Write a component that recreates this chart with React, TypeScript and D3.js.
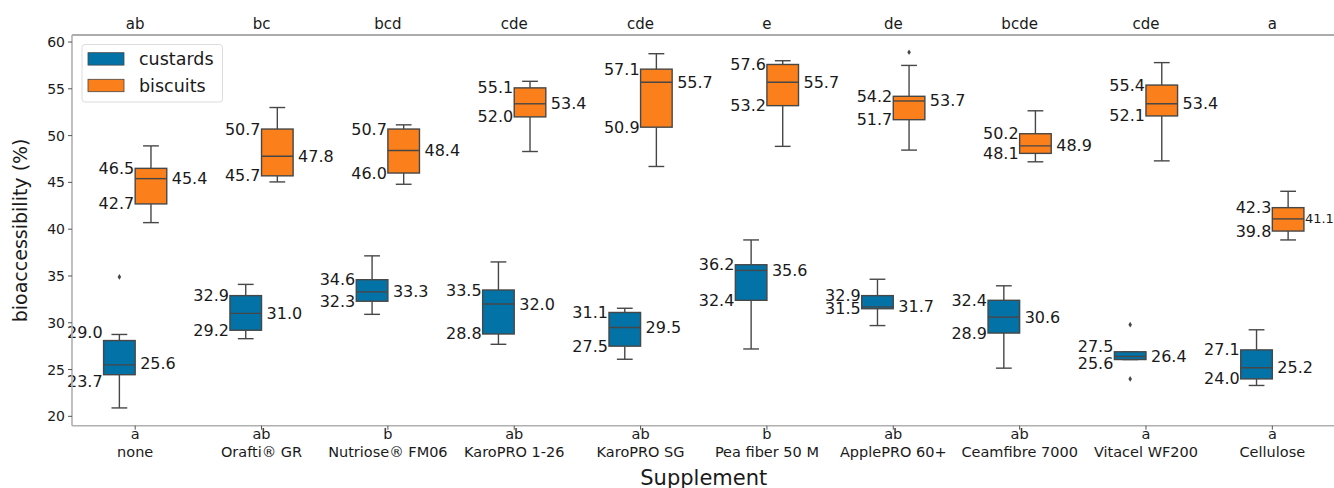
import React from "react";
import * as d3 from "d3";

const categories = [
  "none",
  "Orafti® GR",
  "Nutriose® FM06",
  "KaroPRO 1-26",
  "KaroPRO SG",
  "Pea fiber 50 M",
  "ApplePRO 60+",
  "Ceamfibre 7000",
  "Vitacel WF200",
  "Cellulose",
];

// significance letters: custards under the axis, biscuits on top
const custardsLetters = ["a", "ab", "b", "ab", "ab", "b", "ab", "ab", "a", "a"];
const biscuitsLetters = ["ab", "bc", "bcd", "cde", "cde", "e", "de", "bcde", "cde", "a"];

// [lower whisker, q1, median, q3, upper whisker]
const custardsBoxes = [
  [20.9, 24.45, 25.5, 28.1, 28.75],
  [28.3, 29.2, 31.0, 32.9, 34.1],
  [30.9, 32.3, 33.3, 34.6, 37.15],
  [27.7, 28.8, 32.0, 33.5, 36.5],
  [26.1, 27.5, 29.5, 31.1, 31.55],
  [27.2, 32.4, 35.6, 36.2, 38.85],
  [29.7, 31.5, 31.7, 32.9, 34.65],
  [25.15, 28.9, 30.6, 32.4, 33.95],
  [26.07, 26.07, 26.4, 26.9, 26.9],
  [23.3, 24.0, 25.2, 27.1, 29.25],
];
const biscuitsBoxes = [
  [40.7, 42.7, 45.4, 46.5, 48.9],
  [45.05, 45.7, 47.8, 50.7, 53.0],
  [44.8, 46.0, 48.4, 50.7, 51.15],
  [48.3, 52.0, 53.4, 55.1, 55.8],
  [46.7, 50.9, 55.7, 57.1, 58.75],
  [48.85, 53.2, 55.7, 57.6, 58.0],
  [48.45, 51.7, 53.7, 54.2, 57.5],
  [47.2, 48.1, 48.9, 50.2, 52.65],
  [47.3, 52.1, 53.4, 55.4, 57.8],
  [38.85, 39.8, 41.1, 42.3, 44.05],
];

const custardsFliers = [[34.9], [], [], [], [], [], [], [], [29.8, 24.0], []];
const biscuitsFliers = [[], [], [], [], [], [], [58.9], [], [], []];

// printed numbers: [upper left, right, lower left]
const custardsLabels = [
  ["29.0", "25.6", "23.7"],
  ["32.9", "31.0", "29.2"],
  ["34.6", "33.3", "32.3"],
  ["33.5", "32.0", "28.8"],
  ["31.1", "29.5", "27.5"],
  ["36.2", "35.6", "32.4"],
  ["32.9", "31.7", "31.5"],
  ["32.4", "30.6", "28.9"],
  ["27.5", "26.4", "25.6"],
  ["27.1", "25.2", "24.0"],
];
const biscuitsLabels = [
  ["46.5", "45.4", "42.7"],
  ["50.7", "47.8", "45.7"],
  ["50.7", "48.4", "46.0"],
  ["55.1", "53.4", "52.0"],
  ["57.1", "55.7", "50.9"],
  ["57.6", "55.7", "53.2"],
  ["54.2", "53.7", "51.7"],
  ["50.2", "48.9", "48.1"],
  ["55.4", "53.4", "52.1"],
  ["42.3", "41.1", "39.8"],
];

const yTicks = [20, 25, 30, 35, 40, 45, 50, 55, 60];

const series = [
  { name: "custards", color: "#0272a7", boxes: custardsBoxes, fliers: custardsFliers, labels: custardsLabels },
  { name: "biscuits", color: "#fb7f1a", boxes: biscuitsBoxes, fliers: biscuitsFliers, labels: biscuitsLabels },
];

const W = 1334;
const H = 488;
const font = "DejaVu Sans, sans-serif";
const edge = "#474747";

// rough DejaVu Sans width of a number string
const textWidth = (s: string, size: number) =>
  s.split("").reduce((w, c) => w + (c === "." ? 0.318 : 0.636), 0) * size;

const App = () => {
  const plot = { left: 72, right: 1335.5, top: 35, bottom: 425.7 };

  const x = d3.scaleBand().domain(categories).range([plot.left, plot.right]);
  const bw = x.bandwidth();
  const hue = d3
    .scaleBand()
    .domain(series.map((s) => s.name))
    .range([bw * 0.25, bw * 0.75]);
  const boxW = hue.bandwidth();
  const y = d3.scaleLinear().domain([19.0, 60.75]).range([plot.bottom, plot.top]);
  const center = (c: string) => (x(c) as number) + bw / 2;

  return (
    <svg
      width={W}
      height={H}
      style={{ position: "absolute", left: 0, top: 0, background: "#fff" }}
      fontFamily={font}
    >
      {/* boxes */}
      {series.map((s) =>
        categories.map((c, i) => {
          const [lo, q1, med, q3, hi] = s.boxes[i];
          const bx = (x(c) as number) + (hue(s.name) as number);
          const mid = bx + boxW / 2;
          const [labTop, labMid, labBot] = s.labels[i];
          let medSize = 16;
          let medGap = 5;
          if (bx + boxW + medGap + textWidth(labMid, medSize) > W) {
            medSize = 13;
            medGap = 1;
          }
          return (
            <g key={s.name + c}>
              <line x1={mid} x2={mid} y1={y(q3)} y2={y(hi)} stroke={edge} strokeWidth={1.4} />
              <line x1={mid} x2={mid} y1={y(q1)} y2={y(lo)} stroke={edge} strokeWidth={1.4} />
              <line x1={mid - boxW / 4} x2={mid + boxW / 4} y1={y(hi)} y2={y(hi)} stroke={edge} strokeWidth={1.4} />
              <line x1={mid - boxW / 4} x2={mid + boxW / 4} y1={y(lo)} y2={y(lo)} stroke={edge} strokeWidth={1.4} />
              <rect
                x={bx}
                y={y(q3)}
                width={boxW}
                height={y(q1) - y(q3)}
                fill={s.color}
                stroke={edge}
                strokeWidth={1.4}
              />
              <line x1={bx} x2={bx + boxW} y1={y(med)} y2={y(med)} stroke={edge} strokeWidth={1.4} />
              {s.fliers[i].map((f, k) => (
                <path
                  key={k}
                  d={`M${mid},${y(f) - 2.8}L${mid + 1.8},${y(f)}L${mid},${y(f) + 2.8}L${mid - 1.8},${y(f)}Z`}
                  fill={edge}
                />
              ))}
              <text x={bx - 1} y={y(+labTop)} textAnchor="end" dominantBaseline="central" fontSize={16} fill="#1a1a1a">
                {labTop}
              </text>
              <text x={bx - 1} y={y(+labBot)} textAnchor="end" dominantBaseline="central" fontSize={16} fill="#1a1a1a">
                {labBot}
              </text>
              <text
                x={bx + boxW + medGap}
                y={y(+labMid)}
                dominantBaseline="central"
                fontSize={medSize}
                fill="#1a1a1a"
              >
                {labMid}
              </text>
            </g>
          );
        })
      )}

      {/* spines */}
      <line x1={plot.left} x2={W} y1={plot.top} y2={plot.top} stroke="#5a5a5a" strokeWidth={1.1} />
      <line x1={plot.left} x2={plot.left} y1={plot.top} y2={plot.bottom} stroke="#b0b0b0" strokeWidth={1.6} />
      <line x1={plot.left} x2={W} y1={plot.bottom} y2={plot.bottom} stroke="#b0b0b0" strokeWidth={1.6} />

      {/* y axis */}
      {yTicks.map((t) => (
        <g key={t}>
          <line x1={plot.left - 4} x2={plot.left} y1={y(t)} y2={y(t)} stroke="#555" strokeWidth={1} />
          <text x={plot.left - 7} y={y(t)} textAnchor="end" dominantBaseline="central" fontSize={14} fill="#1a1a1a">
            {t}
          </text>
        </g>
      ))}
      <text
        transform={`translate(20,${(plot.top + plot.bottom) / 2}) rotate(-90)`}
        textAnchor="middle"
        dominantBaseline="central"
        fontSize={19}
        fill="#1a1a1a"
      >
        bioaccessibility (%)
      </text>

      {/* x axis */}
      {categories.map((c, i) => (
        <g key={c}>
          <line x1={center(c)} x2={center(c)} y1={plot.bottom} y2={plot.bottom + 4} stroke="#555" strokeWidth={1} />
          <text x={center(c)} y={434} textAnchor="middle" dominantBaseline="central" fontSize={14.5} fill="#1a1a1a">
            {custardsLetters[i]}
          </text>
          <text x={center(c)} y={452} textAnchor="middle" dominantBaseline="central" fontSize={14.5} fill="#1a1a1a">
            {c}
          </text>
          <text x={center(c)} y={24} textAnchor="middle" dominantBaseline="central" fontSize={15} fill="#1a1a1a">
            {biscuitsLetters[i]}
          </text>
        </g>
      ))}
      <text
        x={(plot.left + plot.right) / 2}
        y={478}
        textAnchor="middle"
        dominantBaseline="central"
        fontSize={21}
        fill="#1a1a1a"
      >
        Supplement
      </text>

      {/* legend */}
      <rect x={82} y={44.5} width={140.5} height={57.5} rx={3} fill="#fff" fillOpacity={0.85} stroke="#dcdcdc" />
      {series.map((s, i) => (
        <g key={s.name}>
          <rect x={88} y={52.7 + i * 26.6} width={36} height={12.4} fill={s.color} stroke={edge} strokeWidth={0.8} />
          <text x={139} y={59 + i * 26.6} dominantBaseline="central" fontSize={17.5} fill="#1a1a1a">
            {s.name}
          </text>
        </g>
      ))}
    </svg>
  );
};

export default App;
